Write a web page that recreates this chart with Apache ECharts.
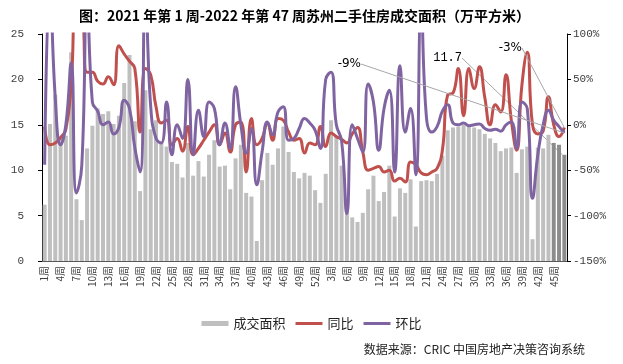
<!DOCTYPE html>
<html><head><meta charset="utf-8">
<script src="https://cdn.jsdelivr.net/npm/echarts@6/dist/echarts.min.js"></script>
<style>html,body{margin:0;padding:0;background:#fff}#c{width:623px;height:364px}</style>
</head><body><div id="c"></div>
<script>
const weeks2021 = ['1周','2周','3周','4周','5周','6周','7周','8周','9周','10周','11周','12周','13周','14周','15周','16周','17周','18周','19周','20周','21周','22周','23周','24周','25周','26周','27周','28周','29周','30周','31周','32周','33周','34周','35周','36周','37周','38周','39周','40周','41周','42周','43周','44周','45周','46周','47周','48周','49周','50周','51周','52周'];
const weeks2022 = ['1周','2周','3周','4周','5周','6周','7周','8周','9周','10周','11周','12周','13周','14周','15周','16周','17周','18周','19周','20周','21周','22周','23周','24周','25周','26周','27周','28周','29周','30周','31周','32周','33周','34周','35周','36周','37周','38周','39周','40周','41周','42周','43周','44周','45周','46周','47周'];
const categories = weeks2021.concat(weeks2022);

// 成交面积（万平方米）
const area = [
6.2, 15.1, 18.3, 13.5, 13.8, 23.0, 6.8, 4.5, 12.4, 14.9,
16.8, 16.2, 16.5, 15.1, 16.0, 19.6, 22.7, 15.4, 7.7, 18.8,
14.5, 15.5, 13.0, 12.6, 10.9, 10.7, 9.2, 13.0, 9.4, 11.0,
9.3, 11.7, 13.3, 10.4, 10.5, 7.9, 11.3, 12.8, 7.5, 7.1,
2.2, 8.9, 11.9, 10.6, 12.4, 14.8, 12.0, 9.8, 9.1, 9.7,
9.4, 7.8, 6.4, 9.6, 15.5, 13.7, 10.5, 6.0, 4.8, 4.3,
5.3, 7.9, 9.4, 6.6, 7.6, 10.5, 4.9, 8.0, 7.5, 9.0,
3.8, 8.8, 8.9, 8.8, 9.6, 11.6, 14.4, 14.7, 14.8, 15.0,
14.8, 14.7, 14.5, 14.0, 13.5, 13.0, 12.1, 12.4, 12.5, 9.7,
12.3, 12.6, 2.4, 12.5, 12.4, 13.9, 13.0, 12.8, 11.7
];
// 同比 (%)
const yoy = [
-2, -22, -20, -14, -5, 45, 140, 130, 58, 58,
48, 45, 53, 44, 87, 78, 70, 62, -8, 62,
55, 20, 2, 5, -22, -15, -29, -2, -33, -26,
-17, -8, 0, -22, -9, -30, 0, 3, -52, 7,
-22, -15, 2, -17, 7, 5, -8, -17, -15, -31,
-20, -22, -2, -24, -9, -13, -16, -20, -10, -3,
-30, -50, -48, -46, -52, -50, -62, -59, -63, -41,
-44, -53, -55, -52, -48, -28, 33, 35, 62, 10,
62, 40, 64, 30, 0, 22, 14, 55, 5, -28,
44, 80, 0, -10, -7, 31, 0, -13, -3
];
// 环比 (%)
const mom = [
-44, 150, 30, -22, 0, 68, -75, -45, 150, 25,
15, 0, 3, -10, -3, 27, 18, -25, -52, 145,
20, -15, -20, 25, -33, 0, -15, 50, -33, 16,
-13, 25, 18, -22, 2, -26, 42, 0, -31, -4,
-66, -30, 3, -11, 14, 20, -17, -15, -4, 7,
2, -6, -26, 50, 58, 0, -18, -98, 0, -15,
-30, 45, 25, -28, 18, 38, -52, 65, -8, 18,
-55, 130, 8, -8, -2, 15, 22, 2, 0, 2,
-1, 0, 1, -4, -6, -5, -7, 0, 3, -26,
25, 18, -81, -33, 0, 16, 5, -2, -9
];
const darkFrom = 96; // last weeks drawn darker
const lastIdx = area.length - 1;

const chart = echarts.init(document.getElementById('c'), null, {renderer: 'canvas'});
const numFont = 'Liberation Mono';
const cjk = 'Noto Sans CJK SC';
const guide = {show: true, lineStyle: {color: '#a6a6a6', width: 1}};

// place an annotation label at (x, y) with a short horizontal stub, then a leader to the mark
function annot(x, y) {
  return function (p) {
    const r = p.rect;
    const tx = r.x + r.width / 2, ty = r.y;
    return {
      x: x, y: y, align: 'right', verticalAlign: 'middle',
      labelLinePoints: [[x + 3, y], [x + 11, y], [tx, ty]]
    };
  };
}
function lastLabel(v, text, font) {
  return {
    value: v, symbol: 'circle', symbolSize: 0.01,
    label: {show: true, formatter: text, fontFamily: font, fontSize: 12, color: '#000'},
    labelLine: guide
  };
}

chart.setOption({
  animation: false,
  title: {
    text: '图：2021 年第 1 周-2022 年第 47 周苏州二手住房成交面积（万平方米）',
    left: 74, top: 4,
    textStyle: {fontFamily: cjk, fontSize: 14, fontWeight: 'bold', color: '#000'}
  },
  legend: {
    top: 312, left: 'center', itemGap: 10, itemWidth: 27, itemHeight: 5,
    textStyle: {fontFamily: cjk, fontSize: 13, color: '#222'},
    data: [
      {name: '成交面积', icon: 'rect'},
      {name: '同比', icon: 'path://M0,0 L27,0 L27,3 L0,3 Z'},
      {name: '环比', icon: 'path://M0,0 L27,0 L27,3 L0,3 Z'}
    ]
  },
  graphic: [{
    type: 'text', right: 38, top: 343,
    style: {text: '数据来源：CRIC 中国房地产决策咨询系统', font: '12px "Noto Sans CJK SC"', fill: '#222'}
  }],
  grid: {left: 42, right: 56, top: 34, bottom: 103},
  xAxis: {
    type: 'category', data: categories,
    axisLine: {lineStyle: {color: '#595959'}},
    axisTick: {show: false},
    axisLabel: {interval: 2, rotate: 90, fontSize: 10, fontFamily: cjk, color: '#404040', margin: 5}
  },
  yAxis: [
    {type: 'value', min: 0, max: 25, interval: 5, splitLine: {show: false},
     axisLine: {show: true, lineStyle: {color: '#000'}},
     axisTick: {show: true, length: 4, lineStyle: {color: '#000'}},
     axisLabel: {fontFamily: numFont, fontSize: 11, color: '#404040', margin: 18}},
    {type: 'value', min: -150, max: 100, interval: 50, splitLine: {show: false},
     axisLine: {show: true, lineStyle: {color: '#000'}},
     axisTick: {show: true, length: 4, lineStyle: {color: '#000'}},
     axisLabel: {fontFamily: numFont, fontSize: 11, color: '#404040', margin: 6, formatter: '{value}%'}}
  ],
  series: [
    {name: '成交面积', type: 'bar', barCategoryGap: '25%', itemStyle: {color: '#bfbfbf'},
     data: area.map((v, i) => {
       const item = {value: v};
       if (i >= darkFrom) item.itemStyle = {color: '#8c8c8c'};
       if (i === lastIdx) {
         item.label = {show: true, formatter: String(v), fontFamily: numFont, fontSize: 12, color: '#000'};
         item.labelLine = guide;
       }
       return item;
     }),
     labelLayout: annot(462, 58)
    },
    {name: '同比', type: 'line', yAxisIndex: 1, smooth: true, showSymbol: true, showAllSymbol: true, symbol: 'none',
     lineStyle: {color: '#c0504d', width: 3}, itemStyle: {color: '#c0504d'},
     data: yoy.map((v, i) => i === lastIdx ? lastLabel(v, v + '%', 'DejaVu Sans') : v),
     labelLayout: annot(522, 48)
    },
    {name: '环比', type: 'line', yAxisIndex: 1, smooth: true, showSymbol: true, showAllSymbol: true, symbol: 'none',
     lineStyle: {color: '#8064a2', width: 3}, itemStyle: {color: '#8064a2'},
     data: mom.map((v, i) => i === lastIdx ? lastLabel(v, v + '%', 'DejaVu Sans') : v),
     labelLayout: annot(361, 64)
    }
  ]
});
</script></body></html>
